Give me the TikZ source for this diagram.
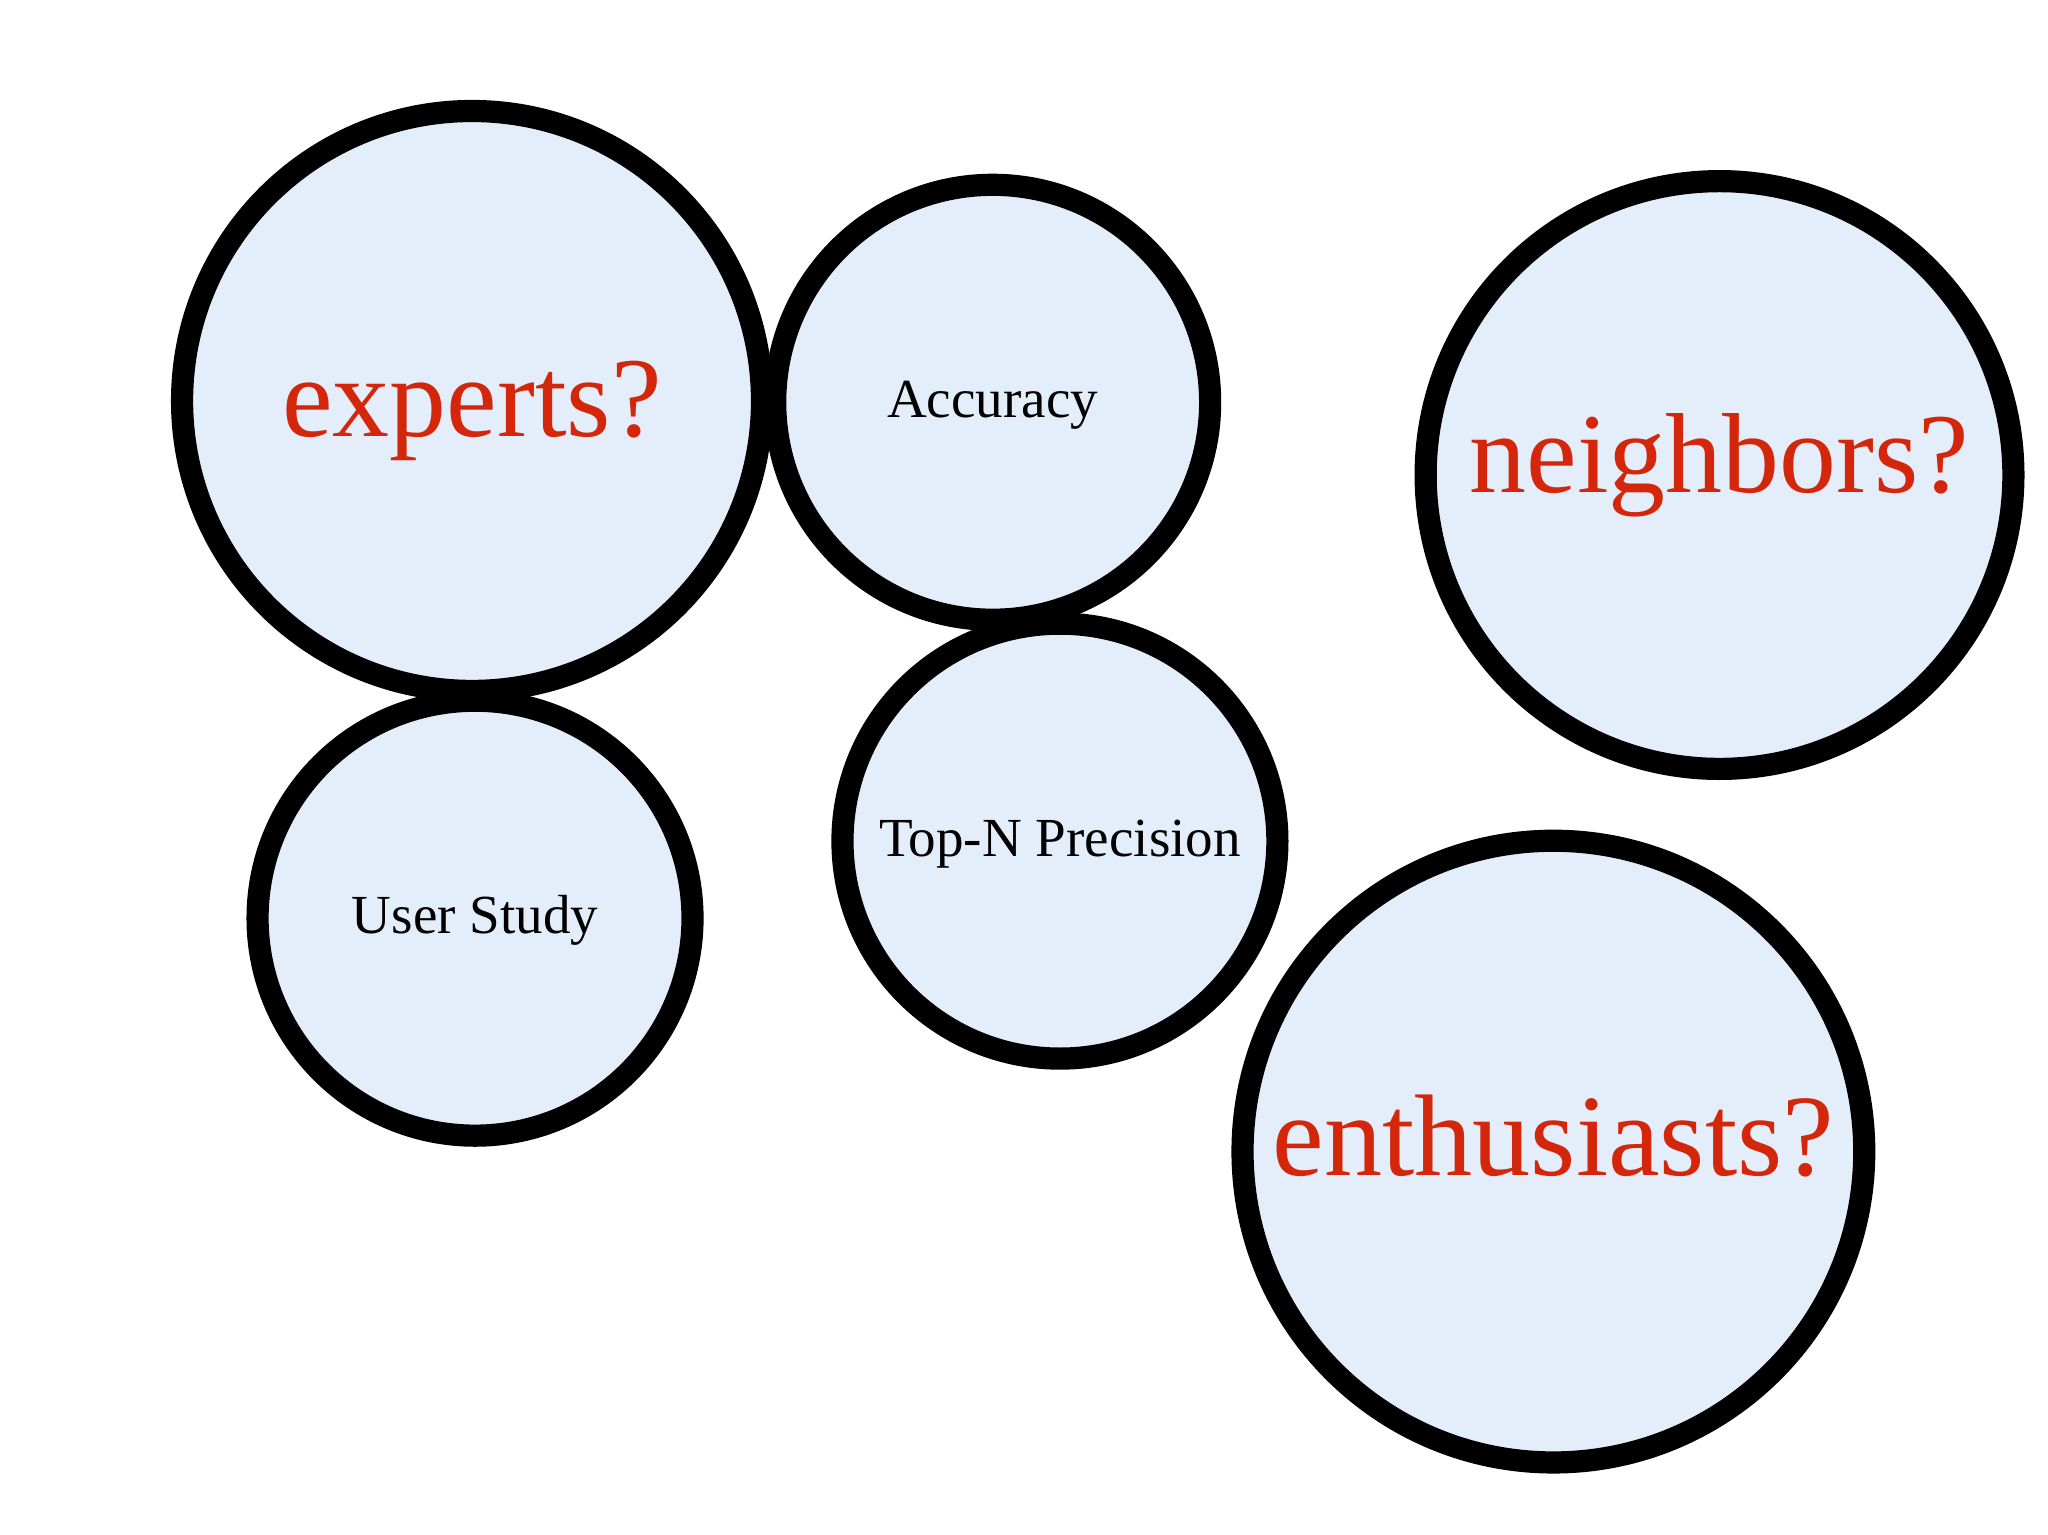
\documentclass[tikz,border=0pt]{standalone}
\usepackage{fontspec}
\setmainfont{Liberation Serif}
\usepackage{tikz}
\usetikzlibrary{shapes.geometric,positioning}

\definecolor{bubblefill}{RGB}{228,238,251}
\definecolor{askred}{RGB}{212,38,10}

\begin{document}
\begin{tikzpicture}[
    bubble/.style={circle, draw=black, line width=0.17cm, fill=bubblefill, inner sep=0pt, align=center, text depth=0pt},
    small/.style={bubble, minimum size=3.33cm, text height=0.24cm, font=\fontsize{12}{14}\selectfont},
    big/.style={bubble, text=askred, text height=0.36cm, font=\fontsize{24.8}{28}\selectfont}
  ]
    \path[fill=white] (0,0) rectangle (15.68,11.75);
    \useasboundingbox (0,0) rectangle (15.68,11.75);

    % Measures
    \node[small] (acc) at (7.60,8.67) {Accuracy};
    \node[small] (topn) at (8.115,5.31) {Top-N Precision};
    \node[small] (study) at (3.637,4.72) {User Study};

    % Open questions
    \node[big, minimum size=4.44cm, text height=0.54cm] (experts) at (3.614,8.68) {experts?};
    \node[big, minimum size=4.50cm, text height=0.26cm] (neigh) at (13.165,8.113) {neighbors?};
    \node[big, minimum size=4.76cm, font=\fontsize{25.3}{28}\selectfont] (enth) at (11.893,2.933) {enthusiasts?};
\end{tikzpicture}
\end{document}
